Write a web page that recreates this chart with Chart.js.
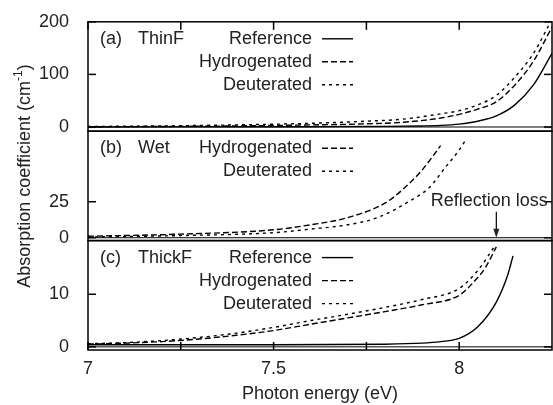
<!DOCTYPE html>
<html>
<head>
<meta charset="utf-8">
<script src="https://cdn.jsdelivr.net/npm/chart.js@4"></script>
<style>
  html, body { margin: 0; padding: 0; background: #fff; }
</style>
</head>
<body>
<canvas id="chart" width="553" height="405"></canvas>
<script>
// photon energy axis
const xTickValues = [7, 7.25, 7.5, 7.75, 8];
const xLabelValues = [7, 7.5, 8];

// (a) ThinF
const aRefX = [7.0, 7.5, 7.8, 7.9, 7.95, 8.0, 8.05, 8.1, 8.15, 8.2, 8.25];
const aRefY = [0, 0.5, 1.2, 2, 3, 5.5, 11, 21, 42, 80, 140];
const aX = [7.0, 7.2, 7.4, 7.6, 7.75, 7.85, 7.95, 8.0, 8.05, 8.1, 8.15, 8.2, 8.25];
const aHydY = [0.5, 1, 2, 4, 6, 9, 17, 24, 34, 48, 80, 125, 190];
const aDeuY = [1, 2, 4, 7, 11, 15, 25, 31, 42, 60, 95, 140, 205];
const aTicks = [0, 100, 200];

// (b) Wet
const bHydX = [7.0, 7.25, 7.5, 7.6, 7.7, 7.8, 7.85, 7.9, 7.95];
const bHydY = [1, 2.5, 5.5, 9, 14, 24, 34, 47, 64];
const bDeuX = [7.0, 7.25, 7.5, 7.6, 7.7, 7.78, 7.87, 7.92, 7.96, 8.0, 8.02];
const bDeuY = [0.5, 1.5, 3.5, 6, 9, 14, 26, 35, 48, 61, 69];
const bTicks = [0, 25];

// (c) ThickF
const cRefX = [7.0, 7.5, 7.8, 7.9, 7.95, 8.0, 8.05, 8.1, 8.13, 8.145];
const cRefY = [0.4, 0.4, 0.5, 0.7, 1.0, 1.6, 3.8, 8.5, 13.5, 17.3];
const cHydX = [7.0, 7.1, 7.2, 7.3, 7.4, 7.5, 7.6, 7.7, 7.8, 7.9, 8.0, 8.04, 8.07, 8.1];
const cHydY = [0.5, 0.7, 1.0, 1.5, 2.2, 3.1, 4.3, 5.5, 6.7, 8.0, 9.8, 12.4, 15, 19];
const cDeuX = [7.0, 7.1, 7.2, 7.3, 7.4, 7.5, 7.6, 7.7, 7.8, 7.9, 8.0, 8.05, 8.08, 8.097];
const cDeuY = [0.6, 0.8, 1.2, 1.8, 2.6, 3.7, 5.0, 6.2, 7.5, 9.0, 11.1, 14.5, 17.5, 19.3];
const cTicks = [0, 10];

const panelTags = ['(a)', '(b)', '(c)'];
const panelNames = ['ThinF', 'Wet', 'ThickF'];
const panelLegends = [
  ['Reference', 'Hydrogenated', 'Deuterated'],
  ['Hydrogenated', 'Deuterated'],
  ['Reference', 'Hydrogenated', 'Deuterated']
];
const dashes = { Reference: [], Hydrogenated: [6, 3], Deuterated: [3, 4] };
const panelAxes = ['ya', 'yb', 'yc'];

const FONT = "'Liberation Sans', Arial, sans-serif";
const INK = '#222';

function pts(xs, ys) {
  return xs.map((x, i) => ({ x: x, y: ys[i] }));
}

function series(label, axis, xs, ys) {
  return {
    label: label,
    yAxisID: axis,
    data: pts(xs, ys),
    borderColor: '#000',
    borderWidth: 1.4,
    borderDash: dashes[label],
    pointRadius: 0,
    fill: false,
    cubicInterpolationMode: 'monotone'
  };
}

function yScale(min, max, ticks) {
  return {
    type: 'linear',
    position: 'left',
    stack: 'panels',
    stackWeight: 1,
    min: min,
    max: max,
    grid: { display: false },
    border: { display: false },
    ticks: { padding: 11, color: INK, font: { family: FONT, size: 18 } },
    afterBuildTicks: s => { s.ticks = ticks.map(v => ({ value: v })); },
    afterFit: s => { s.width = 88; }
  };
}

function line(ctx, x1, y1, x2, y2) {
  ctx.beginPath();
  ctx.moveTo(x1, y1);
  ctx.lineTo(x2, y2);
  ctx.stroke();
}

const panelDeco = {
  id: 'panelDeco',
  afterDatasetsDraw(chart) {
    const ctx = chart.ctx;
    const xs = chart.scales.x;
    const l = xs.left, r = xs.right;
    ctx.save();
    ctx.strokeStyle = '#000';
    ctx.fillStyle = INK;
    ctx.font = '18px ' + FONT;
    ctx.textBaseline = 'middle';

    panelAxes.forEach((id, i) => {
      const ys = chart.scales[id];
      const t = ys.top, b = ys.bottom;
      ctx.setLineDash([]);

      // zero line
      ctx.lineWidth = 1;
      const y0 = ys.getPixelForValue(0);
      line(ctx, l, y0, r, y0);

      // frame
      ctx.lineWidth = 1.5;
      ctx.strokeRect(l, t, r - l, b - t);

      // y ticks, inward on both sides
      ys.ticks.forEach(tk => {
        const p = ys.getPixelForValue(tk.value);
        line(ctx, l, p, l + 8, p);
        line(ctx, r, p, r - 8, p);
      });

      // x ticks on top of first panel and bottom of last
      xTickValues.forEach(v => {
        const px = xs.getPixelForValue(v);
        if (i === 0) line(ctx, px, t, px, t + 8);
        if (i === panelAxes.length - 1) line(ctx, px, b, px, b - 8);
      });

      // panel label
      ctx.textAlign = 'left';
      ctx.fillText(panelTags[i], l + 12, t + 17);
      ctx.fillText(panelNames[i], l + 50, t + 17);

      // key
      panelLegends[i].forEach((name, k) => {
        const yy = t + 17 + k * 23;
        ctx.textAlign = 'right';
        ctx.fillText(name, l + 224, yy);
        ctx.lineWidth = 1.4;
        ctx.setLineDash(dashes[name]);
        line(ctx, l + 234, yy, l + 265, yy);
        ctx.setLineDash([]);
      });
    });

    // reflection loss marker in panel (b)
    const yb = chart.scales.yb;
    const ax = xs.getPixelForValue(8.1);
    const ay = yb.getPixelForValue(0);
    ctx.textAlign = 'center';
    ctx.fillText('Reflection loss', ax - 7, ay - 37);
    ctx.lineWidth = 1.2;
    line(ctx, ax, ay - 26, ax, ay - 6);
    ctx.beginPath();
    ctx.moveTo(ax - 3, ay - 9);
    ctx.lineTo(ax + 3, ay - 9);
    ctx.lineTo(ax, ay);
    ctx.closePath();
    ctx.fill();

    // y title with superscript
    const main = 'Absorption coefficient (cm';
    const sup = '-1';
    const tail = ')';
    ctx.font = '18px ' + FONT;
    const w1 = ctx.measureText(main).width;
    const w3 = ctx.measureText(tail).width;
    ctx.font = '12px ' + FONT;
    const w2 = ctx.measureText(sup).width;
    const total = w1 + w2 + w3;
    ctx.translate(25, 176);
    ctx.rotate(-Math.PI / 2);
    ctx.textAlign = 'left';
    ctx.textBaseline = 'middle';
    ctx.font = '18px ' + FONT;
    ctx.fillText(main, -total / 2, 0);
    ctx.font = '12px ' + FONT;
    ctx.fillText(sup, -total / 2 + w1, -6);
    ctx.font = '18px ' + FONT;
    ctx.fillText(tail, -total / 2 + w1 + w2, 0);
    ctx.restore();
  }
};

new Chart(document.getElementById('chart'), {
  type: 'line',
  data: {
    datasets: [
      series('Reference', 'ya', aRefX, aRefY),
      series('Hydrogenated', 'ya', aX, aHydY),
      series('Deuterated', 'ya', aX, aDeuY),
      series('Hydrogenated', 'yb', bHydX, bHydY),
      series('Deuterated', 'yb', bDeuX, bDeuY),
      series('Reference', 'yc', cRefX, cRefY),
      series('Hydrogenated', 'yc', cHydX, cHydY),
      series('Deuterated', 'yc', cDeuX, cDeuY)
    ]
  },
  options: {
    responsive: false,
    animation: false,
    layout: { padding: { top: 20, right: 1, left: 0, bottom: 0 } },
    plugins: { legend: { display: false }, tooltip: { enabled: false } },
    scales: {
      x: {
        type: 'linear',
        min: 7,
        max: 8.25,
        grid: { display: false, drawTicks: false },
        border: { display: false },
        ticks: {
          padding: 8,
          autoSkip: false,
          maxRotation: 0,
          color: INK,
          font: { family: FONT, size: 18 },
          callback: v => xLabelValues.includes(v) ? String(v) : ''
        },
        afterBuildTicks: s => { s.ticks = xTickValues.map(v => ({ value: v })); },
        afterFit: s => { s.height = 55; },
        title: {
          display: true,
          text: 'Photon energy (eV)',
          color: INK,
          font: { family: FONT, size: 18 },
          padding: { top: 4, bottom: 0 }
        }
      },
      yc: yScale(-0.6, 20.2, cTicks),
      yb: yScale(-2, 74, bTicks),
      ya: yScale(-8, 200, aTicks)
    }
  },
  plugins: [panelDeco]
});
</script>
</body>
</html>
